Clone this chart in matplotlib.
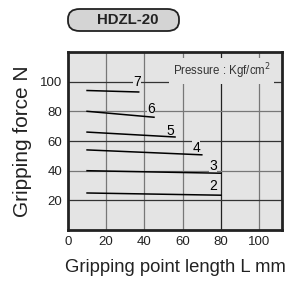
import numpy as np
import matplotlib
matplotlib.use('Agg')
import matplotlib.pyplot as plt
from matplotlib.patches import FancyBboxPatch

plt.rcParams['font.family'] = ['Liberation Sans', 'DejaVu Sans']

# pressure curves: label, start (x, y), end (x, y)
pressures = ['2', '3', '4', '5', '6', '7']
x_start = [10, 10, 10, 10, 10, 10]
y_start = [25, 40, 54, 66, 80, 94]
x_end = [80, 80, 70, 56, 45, 37]
y_end = [23.5, 38.3, 50.7, 62.7, 76, 93]
# where the numbers sit
lab_x = [76, 76, 67, 53.5, 43.5, 36]
lab_y = [29.5, 43, 55.5, 67, 81.5, 100]

xticks = [0, 20, 40, 60, 80, 100]
yticks = [20, 40, 60, 80, 100]

bg = '#e4e4e4'
W, H = 306, 282

fig = plt.figure(figsize=(3.06, 2.82), dpi=100)
ax = fig.add_axes([0.222, 0.184, 0.700, 0.632])
ax.set_facecolor(bg)
ax.set_xlim(0, 112)
ax.set_ylim(0, 120)

# grid
for x in xticks[1:]:
    c = '#222222' if x == 80 else '#777777'
    ax.axvline(x, color=c, lw=0.9, zorder=1)
for y in yticks:
    c = '#333333' if y in (20, 60, 100) else '#777777'
    ax.axhline(y, color=c, lw=0.9, zorder=1)

for i in range(len(pressures)):
    ax.plot([x_start[i], x_end[i]], [y_start[i], y_end[i]], color='black', lw=1.1, zorder=3)
    ax.text(lab_x[i], lab_y[i], pressures[i], fontsize=10, ha='center', va='center', zorder=2,
            bbox=dict(facecolor=bg, edgecolor='none', pad=0.2))

ax.text(106, 107, 'Pressure : Kgf/cm$^2$', fontsize=8.3, ha='right', va='center', color='#333333',
        zorder=4, bbox=dict(facecolor=bg, edgecolor='none', pad=2.5))

for s in ax.spines.values():
    s.set_linewidth(2)
    s.set_color('#222222')

ax.set_xticks(xticks)
ax.set_yticks(yticks)
ax.tick_params(length=0, labelsize=9.5, colors='#222222', pad=4)
ax.set_xlabel('Gripping point length L mm', fontsize=13.3, labelpad=8, color='#222222')
ax.set_ylabel('Gripping force N', fontsize=15, labelpad=6, color='#222222')

# title badge
bx0, bx1, by0, by1 = 68, 179, 9, 31
badge = FancyBboxPatch((bx0 / W, 1 - by1 / H), (bx1 - bx0) / W, (by1 - by0) / H,
                       boxstyle='round,pad=0,rounding_size=0.038', transform=fig.transFigure,
                       facecolor='#d4d4d4', edgecolor='#222222', lw=1.3, mutation_aspect=H / W)
fig.patches.append(badge)
fig.text(127.5 / W, 1 - 20 / H, 'HDZL-20', fontsize=10.8, fontweight='bold', ha='center',
         va='center', color='#222222')

fig.savefig('out.png', dpi=100)
